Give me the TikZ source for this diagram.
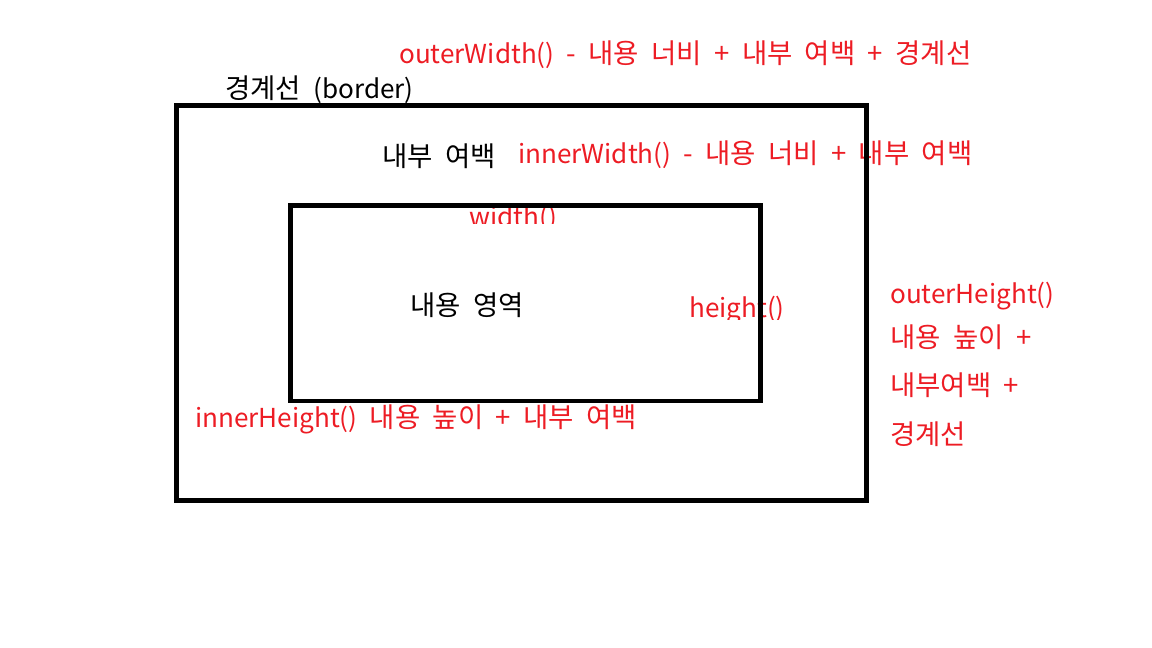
\documentclass[tikz,border=0pt]{standalone}
\usepackage{fontspec}
\setmainfont[WordSpace=2]{Noto Sans CJK KR}
\definecolor{pred}{RGB}{237,28,36}
\newcommand\latn[1]{{\fontsize{26.1}{30}\selectfont #1}}
\tikzset{
  box/.style={draw=black, inner sep=0pt, outer sep=0pt, anchor=north west},
  lbl/.style={anchor=base west, inner sep=0pt, font=\fontsize{27.5}{32}\selectfont},
  rlbl/.style={lbl, text=pred},
}
\begin{document}
\begin{tikzpicture}[x=1pt,y=-1pt]
\useasboundingbox[fill=white] (0,0) rectangle (1152,648);
\node[rlbl] (ow) at (399,63) {\latn{outerWidth()} - 내용 너비 + 내부 여백 + 경계선};
\node[lbl] (bd) at (225,98) {경계선 \latn{(border)}};
\node[lbl] (pd) at (382,166) {내부 여백};
\node[rlbl] (iw) at (518,163) {\latn{innerWidth()} - 내용 너비 + 내부 여백};
\begin{scope}
\clip (440,195) rectangle (600,223);
\node[rlbl] (wd) at (469,226) {\latn{width()}};
\end{scope}
\node[lbl] (ct) at (410,315) {내용 영역};
\begin{scope}
\clip (680,280) rectangle (800,319);
\node[rlbl] (ht) at (689,317) {\latn{height()}};
\end{scope}
\node[rlbl] (ih) at (195,427) {\latn{innerHeight()} 내용 높이 + 내부 여백};
\node[rlbl] (oh1) at (890,303) {\latn{outerHeight()}};
\node[rlbl] (oh2) at (890,347) {내용 높이 +};
\node[rlbl] (oh3) at (890,395) {내부여백 +};
\node[rlbl] (oh4) at (890,444) {경계선};
\node[box, line width=5pt, minimum width=690pt, minimum height=395pt] (outer) at (176.5,105.5) {};
\node[box, line width=4.5pt, minimum width=470pt, minimum height=195.5pt] (inner) at (290.5,205.5) {};
\end{tikzpicture}
\end{document}
